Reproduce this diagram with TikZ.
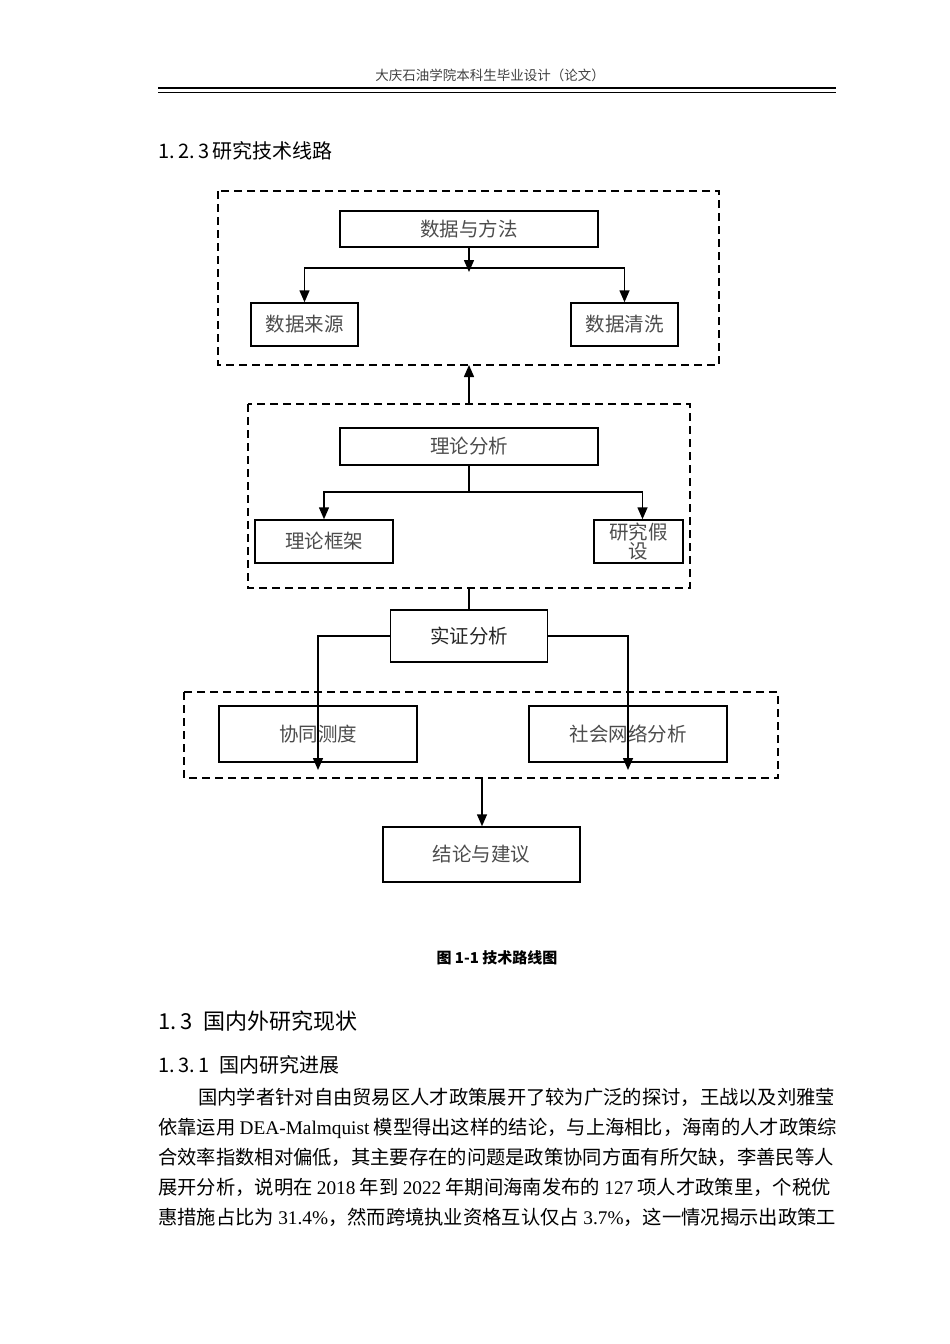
\documentclass[tikz,border=0pt]{standalone}
\usepackage{fontspec}
\setmainfont{Noto Sans CJK SC}
\newfontfamily\lat{Liberation Serif}
\usetikzlibrary{arrows.meta}
\tikzset{
  stage/.style={draw, line width=1.5pt, inner sep=0pt, text=black!70, font=\fontsize{19.5}{21}\selectfont},
  group/.style={draw, line width=1.5pt, dash pattern=on 8pt off 5pt},
  flow/.style={line width=1.5pt, -{Triangle[length=12pt,width=10pt]}},
  body/.style={anchor=base west, inner sep=0pt, font=\fontsize{19.3}{20}\selectfont}
}
\begin{document}
\begin{tikzpicture}[x=1pt, y=-1pt]
  \useasboundingbox (0,0) rectangle (950,1344);
  % page header
  \node (header) at (490,75) [font=\fontsize{13.5}{15}\selectfont, text=black!75] {大庆石油学院本科生毕业设计（论文）};
  \draw [line width=2.6pt] (158,88) -- (836,88);
  \draw [line width=0.7pt] (158,92.5) -- (836,92.5);
  \node (sec123) at (158,151) [anchor=west, inner sep=0pt, font=\fontsize{20}{22}\selectfont] {1.\,2.\,3\,研究技术线路};

  % groups
  \draw [group] (218,191) rectangle (719,365);
  \draw [group] (248,404) rectangle (690,588);
  \draw [group] (184,692) rectangle (778,778);
  \coordinate (g1s) at (469,365);
  \coordinate (g2n) at (469,404);
  \coordinate (g2s) at (469,588);
  \coordinate (g3s) at (482,778);
  \coordinate (fork1) at (469,268);
  \coordinate (fork2) at (469,492);

  % boxes
  \node [stage, minimum width=258pt, minimum height=36pt] (data) at (469,229) {数据与方法};
  \node [stage, minimum width=107pt, minimum height=43pt] (source) at (304.5,324.5) {数据来源};
  \node [stage, minimum width=107pt, minimum height=43pt] (clean) at (624.5,324.5) {数据清洗};
  \node [stage, minimum width=258pt, minimum height=37pt] (theory) at (469,446.5) {理论分析};
  \node [stage, minimum width=138pt, minimum height=43pt] (frame) at (324,541.5) {理论框架};
  \node [stage, minimum width=89pt, minimum height=43pt, align=center, font=\fontsize{19.5}{19}\selectfont] (hypo) at (638.5,541.5) {研究假\\设};
  \node [stage, minimum width=157pt, minimum height=52pt, text=black!85] (emp) at (469,636) {实证分析};
  \node [stage, minimum width=198pt, minimum height=56pt] (synergy) at (318,734) {协同测度};
  \node [stage, minimum width=198pt, minimum height=56pt] (network) at (628,734) {社会网络分析};
  \node [stage, minimum width=197pt, minimum height=55pt] (concl) at (481.5,854.5) {结论与建议};

  % connectors
  \draw [flow] (data.south) -- ([yshift=-4pt]fork1);
  \draw [flow] (fork1) -| (source.north);
  \draw [flow] (fork1) -| (clean.north);
  \draw [flow] (g2n) -- (g1s);
  \draw [line width=1.5pt] (theory.south) -- (fork2);
  \draw [flow] (fork2) -| (frame.north);
  \draw [flow] (fork2) -| ([xshift=4pt]hypo.north);
  \draw [line width=1.5pt] (g2s) -- (emp.north);
  \draw [flow] (emp.west) -| ([yshift=8pt]g3s -| synergy.north);
  \draw [flow] (emp.east) -| ([yshift=8pt]g3s -| network.north);
  \draw [flow] (g3s) -- (concl.north -| g3s);

  % caption and text below
  \node (caption) at (497,958) [font=\fontsize{15}{17}\selectfont\bfseries] {图 1-1 技术路线图};
  \node (sec13) at (158,1021) [anchor=west, inner sep=0pt, font=\fontsize{22}{24}\selectfont] {1.\,3 \;国内外研究现状};
  \node (sec131) at (158,1065) [anchor=west, inner sep=0pt, font=\fontsize{20}{22}\selectfont] {1.\,3.\,1 \;国内研究进展};
  \node [body] (l1) at (198,1104) {国内学者针对自由贸易区人才政策展开了较为广泛的探讨，王战以及刘雅莹};
  \node [body] (l2) at (158,1134) {依靠运用 {\lat DEA-Malmquist} 模型得出这样的结论，与上海相比，海南的人才政策综};
  \node [body] (l3) at (158,1164) {合效率指数相对偏低，其主要存在的问题是政策协同方面有所欠缺，李善民等人};
  \node [body] (l4) at (158,1194) {展开分析，说明在 {\lat 2018} 年到 {\lat 2022} 年期间海南发布的 {\lat 127} 项人才政策里，个税优};
  \node [body] (l5) at (158,1224) {惠措施占比为 {\lat 31.4\%}，然而跨境执业资格互认仅占 {\lat 3.7\%}，这一情况揭示出政策工};
\end{tikzpicture}
\end{document}
